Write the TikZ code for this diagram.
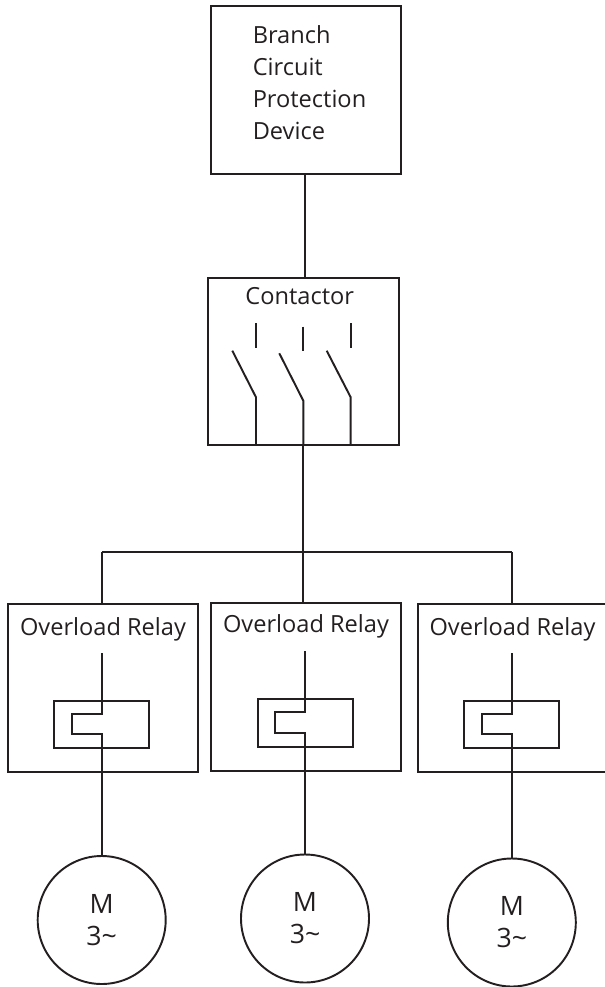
\documentclass[tikz,border=0pt]{standalone}
\usepackage{fontspec}
\setmainfont{Open Sans}
\usepackage{xcolor}
\definecolor{inkgrey}{HTML}{231F20}
\tikzset{
  box/.style={draw=inkgrey, line width=1.65pt, inner sep=0pt, outer sep=0pt},
  wire/.style={draw=inkgrey, line width=1.45pt},
  thermal/.style={draw=inkgrey, line width=1.45pt, inner sep=0pt, outer sep=0pt, minimum width=71.25pt, minimum height=35.7pt},
  relaybox/.style={box, minimum width=142.5pt, minimum height=126pt},
  motor/.style={draw=inkgrey, circle, line width=1.45pt, minimum size=96pt, inner sep=0pt, outer sep=0pt, align=center, text=inkgrey, font=\fontsize{20}{24}\selectfont},
  lab/.style={text=inkgrey, inner sep=0pt, font=\fontsize{17.7}{24}\selectfont}
}
\begin{document}
\begin{tikzpicture}[x=0.75pt,y=-0.75pt]
\useasboundingbox (0,0) rectangle (605,987);

% top box
\node[box, minimum width=142.5pt, minimum height=126pt] (branch) at (306,90) {};
\node[lab, align=left, anchor=base west] (branchtext) at (252.5,140) {Branch\\Circuit\\Protection\\Device};

\node[box, minimum width=143pt, minimum height=125.25pt] (contactor) at (303.7,361.5) {};
\node[lab, anchor=base] (contactortext) at (299.7,305) {Contactor};
\coordinate (feed) at (305,174);
\draw[wire] (feed) -- (feed |- contactor.north);

% contactor poles
\coordinate (fixa) at (256,323.3);
\coordinate (fixaend) at (256,348.3);
\coordinate (fixb) at (303.3,326.7);
\coordinate (fixbend) at (303.3,351);
\coordinate (fixc) at (350.7,323.3);
\coordinate (fixcend) at (350.7,348.3);
\coordinate (bladea) at (232.3,350.7);
\coordinate (pivota) at (256,397.3);
\coordinate (bladeb) at (279.3,353.3);
\coordinate (pivotb) at (303.3,400.7);
\coordinate (bladec) at (326.7,350.7);
\coordinate (pivotc) at (350.7,397.3);
\draw[wire] (fixa)--(fixaend);
\draw[wire] (fixb)--(fixbend);
\draw[wire] (fixc)--(fixcend);
\draw[wire] (bladea)--(pivota)--(pivota |- contactor.south);
\draw[wire] (bladeb)--(pivotb)--(pivotb |- contactor.south);
\draw[wire] (bladec)--(pivotc)--(pivotc |- contactor.south);

% relays
\node[relaybox] (relaya) at (103,688) {};
\node[relaybox] (relayb) at (306,686.7) {};
\node[relaybox] (relayc) at (512.7,688) {};
\node[lab, anchor=base] (relayatext) at (103,635.3) {Overload Relay};
\node[lab, anchor=base] (relaybtext) at (306,632.7) {Overload Relay};
\node[lab, anchor=base] (relayctext) at (512.5,635.3) {Overload Relay};

% bus
\coordinate (busa) at (102,552);
\coordinate (busb) at (303.3,552);
\coordinate (busc) at (511.8,552);
\draw[wire] (busb |- contactor.south)--(busb);
\draw[wire] (busa)--(busc);
\draw[wire] (busa)--(busa |- relaya.north);
\draw[wire] (busb)--(busb |- relayb.north);
\draw[wire] (busc)--(busc |- relayc.north);

% thermal elements
\node[thermal] (heatera) at (101.8,724.5) {};
\node[thermal] (heaterb) at (305.2,723) {};
\node[thermal] (heaterc) at (511.7,724.5) {};

% motors
\node[motor] (motora) at (101.7,920) {M\\3\textasciitilde};
\node[motor] (motorb) at (305,918.5) {M\\3\textasciitilde};
\node[motor] (motorc) at (511.8,922.5) {M\\3\textasciitilde};

\coordinate (linea) at (101.7,653);
\coordinate (lineb) at (305,651);
\coordinate (linec) at (511.8,653);
\draw[wire] (linea)--(101.7,714)--(72.3,714)--(72.3,734)--(101.7,734)--(motora.north);
\draw[wire] (lineb)--(305,712.3)--(275.3,712.3)--(275.3,732.7)--(305,732.7)--(motorb.north);
\draw[wire] (linec)--(511.8,714)--(482,714)--(482,734)--(511.8,734)--(motorc.north);
\end{tikzpicture}
\end{document}
